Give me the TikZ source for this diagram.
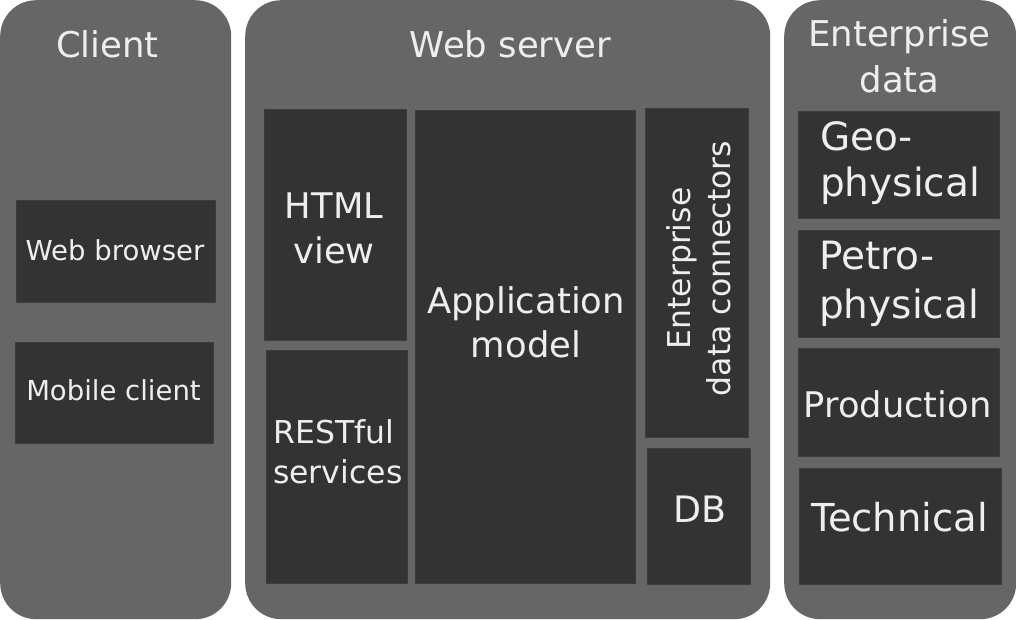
\documentclass[tikz,border=0pt]{standalone}
\usepackage{fontspec}
\setmainfont{DejaVu Sans}
\newcommand\myfs[2]{\fontsize{#1}{#2}\selectfont}
\definecolor{panelgray}{HTML}{666666}
\definecolor{boxgray}{HTML}{333333}
\definecolor{boxedge}{HTML}{3D3D3D}
\definecolor{txt}{HTML}{EEEEEE}
\tikzset{
  panel/.style={fill=panelgray, draw=none, rounded corners=36pt, inner sep=0pt, anchor=north west},
  box/.style={fill=boxgray, draw=boxedge, line width=1pt, inner sep=0pt},
  lbl/.style={text=txt, inner sep=0pt, anchor=base},
}
\begin{document}
\begin{tikzpicture}[x=1pt,y=-1pt]
\useasboundingbox (0,0) rectangle (1016,619);
% panels
\node[panel, minimum width=231pt, minimum height=619pt] (client) at (0,0) {};
\node[panel, minimum width=525pt, minimum height=619pt] (web) at (245,0) {};
\node[panel, minimum width=232pt, minimum height=619pt] (ent) at (784,0) {};
% client boxes
\node[box, minimum width=199pt, minimum height=102pt] (wb) at (115.5,251) {};
\node[box, minimum width=198pt, minimum height=101pt] (mc) at (114,392.5) {};
% web server boxes
\node[box, minimum width=142pt, minimum height=231pt] (html) at (335,224.5) {};
\node[box, minimum width=141pt, minimum height=233pt] (rest) at (336.5,466.5) {};
\node[box, minimum width=220pt, minimum height=473pt] (app) at (525,346.5) {};
\node[box, minimum width=103pt, minimum height=329pt] (edc) at (696.5,272.5) {};
\node[box, minimum width=103pt, minimum height=136pt] (db) at (698.5,516) {};
% enterprise boxes
\node[box, minimum width=201pt, minimum height=107pt] (geo) at (898.5,164.5) {};
\node[box, minimum width=201pt, minimum height=107pt] (petro) at (898.5,283.5) {};
\node[box, minimum width=201pt, minimum height=108pt] (prod) at (898.5,402) {};
\node[box, minimum width=202pt, minimum height=116pt] (tech) at (900,526) {};
% labels (anchor base = baseline of the last line)
\node[lbl, font=\myfs{35.5}{46}] (tclient) at (107.5,57) {Client};
\node[lbl, font=\myfs{35.5}{46}] (tweb) at (510.5,57) {Web server};
\node[lbl, font=\myfs{35.5}{46}, align=center] (tent) at (899.5,92) {Enterprise\\data};
\node[lbl, font=\myfs{27.5}{33}] (twb) at (115,260) {Web browser};
\node[lbl, font=\myfs{27.5}{33}] (tmc) at (113.5,400) {Mobile client};
\node[lbl, font=\myfs{35.3}{45}, align=center] (thtml) at (334,263) {HTML\\view};
\node[lbl, font=\myfs{35.4}{44}, align=center] (tapp) at (526,357) {Application\\model};
\node[lbl, font=\myfs{31.5}{40}, align=left, anchor=base west] (trest) at (273,483) {RESTful\\services};
\node[lbl, font=\myfs{31.5}{40}, align=center, rotate=90] (tedc) at (730,268.5) {Enterprise\\data connectors};
\node[lbl, font=\myfs{36.4}{44}] (tdb) at (699.5,522) {DB};
\node[lbl, font=\myfs{39}{46}, align=left, anchor=base west] (tgeo) at (820,196) {Geo-\\physical};
\node[lbl, font=\myfs{39}{49}, align=left, anchor=base west] (tpetro) at (819,318) {Petro-\\physical};
\node[lbl, font=\myfs{35.3}{44}] (tprod) at (897.5,417) {Production};
\node[lbl, font=\myfs{38.5}{46}] (ttech) at (899.5,531) {Technical};
\end{tikzpicture}
\end{document}
